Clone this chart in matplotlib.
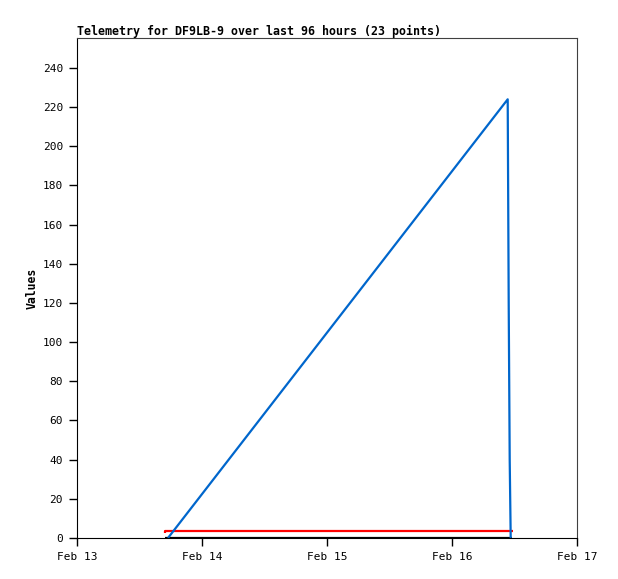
import matplotlib
matplotlib.use('Agg')
import matplotlib.pyplot as plt
from datetime import datetime, timedelta

# times in days after Feb 13 00:00
blue_days = [0.728, 3.4456, 3.4536, 3.4616, 3.4696]
blue_vals = [0, 224, 120, 40, 0]

red_days = [0.704, 0.704, 3.488]
red_vals = [2.4, 3.6, 3.6]

black_days = [0.704, 3.48]
black_vals = [0, 0]

x_tick_labels = ['Feb 13', 'Feb 14', 'Feb 15', 'Feb 16', 'Feb 17']
y_ticks = list(range(0, 241, 20))

start = datetime(2024, 2, 13)


def to_dates(days):
    return [start + timedelta(days=d) for d in days]


plt.rcParams['font.family'] = ['DejaVu Sans Mono']

fig = plt.figure(figsize=(6.18, 5.79), dpi=100)
ax = fig.add_axes([77 / 618, 1 - 538 / 579, 500 / 618, 500 / 579])

ax.plot(to_dates(black_days), black_vals, color='black', lw=1.6, solid_capstyle='butt')
ax.plot(to_dates(red_days), red_vals, color='#ff0000', lw=1.6, solid_capstyle='butt')
ax.plot(to_dates(blue_days), blue_vals, color='#0066cc', lw=1.6, solid_capstyle='butt')

ax.set_xlim(start, start + timedelta(days=4))
ax.set_ylim(0, 255.3)
ax.set_xticks(to_dates([0, 1, 2, 3, 4]))
ax.set_xticklabels(x_tick_labels)
ax.set_yticks(y_ticks)

ax.tick_params(direction='out', length=6, width=1, labelsize=8, pad=4,
               top=False, right=False)
for side in ['left', 'bottom']:
    ax.spines[side].set_color('black')
for side in ['top', 'right']:
    ax.spines[side].set_color('#404040')

ax.set_ylabel('Values', fontsize=8.3, fontweight='bold', labelpad=3)
ax.set_title('Telemetry for DF9LB-9 over last 96 hours (23 points)',
             loc='left', fontsize=8.4, fontweight='bold', pad=2)

fig.savefig('out.png', dpi=100)
